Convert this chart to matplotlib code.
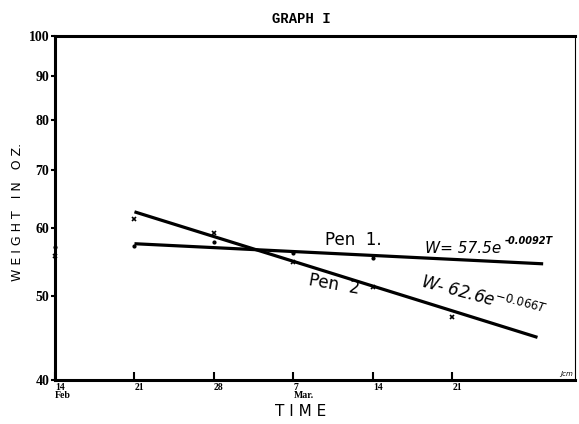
import numpy as np
import matplotlib.pyplot as plt

# days counted from 14 Feb
tick_days = [0, 7, 14, 21, 28, 35]
tick_labels = ['14\nFeb', '21', '28', '7\nMar.', '14', '21']
y_ticks = [40, 50, 60, 70, 80, 90, 100]

# observed weights (oz.)
pen1_days = [0, 7, 14, 21, 28]
pen1_w = [57.0, 57.1, 57.8, 56.1, 55.3]
pen2_days = [0, 7, 14, 21, 28, 35]
pen2_w = [55.6, 61.4, 59.1, 54.8, 51.3, 47.3]

# fitted lines, end points
fit1_days = [7, 43]
fit1_w = [57.5, 54.5]
fit2_days = [7, 42.5]
fit2_w = [62.6, 44.8]

fig = plt.figure(figsize=(5.79, 4.24), dpi=100)
ax = fig.add_axes([0.095, 0.104, 0.898, 0.811])

ax.plot(fit1_days, fit1_w, color='black', lw=2.3, solid_capstyle='butt')
ax.plot(fit2_days, fit2_w, color='black', lw=2.3, solid_capstyle='butt')
ax.plot(pen1_days, pen1_w, ls='none', marker='.', ms=4, color='black', clip_on=False)
ax.plot(pen2_days, pen2_w, ls='none', marker='x', ms=3.5, mew=1.2, color='black',
        clip_on=False)

ax.set_yscale('log')
ax.set_ylim(40, 100)
ax.set_xlim(0, 45.8)
ax.set_yticks(y_ticks)
ax.set_yticklabels([str(v) for v in y_ticks], fontfamily='Liberation Serif',
                   fontweight='bold', fontsize=10)
ax.yaxis.set_minor_locator(plt.NullLocator())
ax.set_xticks(tick_days)
ax.set_xticklabels(tick_labels, fontfamily='Liberation Serif', fontweight='bold',
                   fontsize=7, linespacing=0.9)
for lab in ax.get_xticklabels():
    lab.set_horizontalalignment('left')
ax.tick_params(axis='x', direction='in', length=6, width=1.5, pad=2)
ax.tick_params(axis='y', direction='out', length=3, width=1.5, pad=1)

for side in ['left', 'top', 'bottom']:
    ax.spines[side].set_linewidth(2.2)
ax.spines['right'].set_linewidth(0.8)

ax.text(23.8, 58.0, 'Pen  1.', fontsize=12, va='center')
ax.text(32.6, 56.7, 'W= 57.5e', fontsize=11, va='center', style='italic')
ax.text(39.6, 57.9, '-0.0092T', fontsize=7, va='center', style='italic', fontweight='bold')
ax.text(22.2, 51.6, 'Pen  2', fontsize=12, va='center', rotation=-10)
ax.text(32.0, 49.8, r'W- 62.6$e^{-0.066T}$', fontsize=12, va='center', rotation=-15,
        style='italic')
ax.text(44.5, 40.4, 'Jcm', fontsize=5, style='italic')

fig.text(0.52, 0.955, 'GRAPH I', fontfamily='Liberation Mono', fontweight='bold',
         fontsize=10, ha='center', va='center')
fig.text(0.03, 0.50, 'W E I G H T   I N   O Z.', rotation=90, fontsize=9,
         ha='center', va='center')
fig.text(0.52, 0.03, 'T I M E', fontsize=11, ha='center', va='center')

fig.savefig('out.png', dpi=100)
